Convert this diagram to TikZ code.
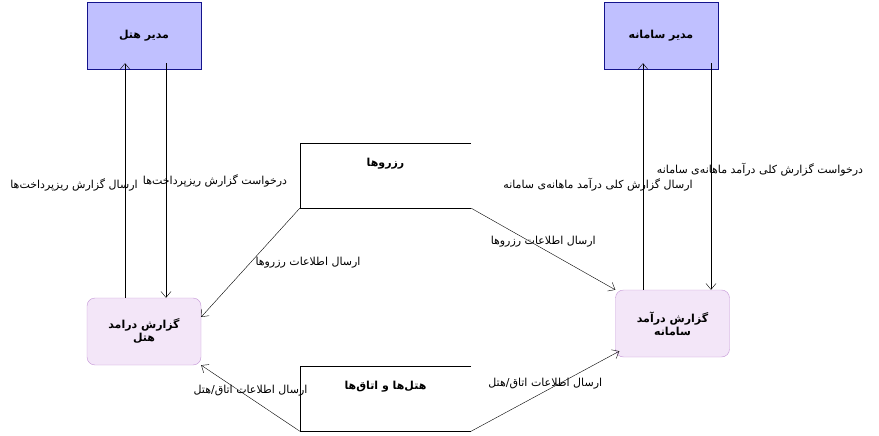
\documentclass[tikz,border=0pt]{standalone}
\usepackage{fontspec}
\setmainfont{DejaVu Sans}
\newfontfamily\arabicfont[Script=Arabic]{DejaVu Sans}
\TeXXeTstate=1
\usetikzlibrary{arrows.meta,calc}
\definecolor{akteur}{RGB}{192,192,255}
\definecolor{akteurrand}{RGB}{20,20,140}
\definecolor{prozess}{RGB}{243,230,248}
\definecolor{prozessrand}{RGB}{196,150,214}

\begin{document}
\begin{tikzpicture}[x=1pt, y=-1pt,
    akteurbox/.style={draw=akteurrand, fill=akteur, minimum width=114pt, minimum height=67pt, inner sep=2pt, font=\arabicfont\bfseries\fontsize{11}{13}\selectfont},
    prozessbox/.style={draw=prozessrand, fill=prozess, rounded corners=8pt, minimum width=114pt, minimum height=67pt, inner sep=2pt, align=center, font=\arabicfont\bfseries\fontsize{11}{13}\selectfont},
    speicher/.style={minimum width=171pt, minimum height=65pt, inner sep=0pt},
    speichertext/.style={anchor=center, yshift=-21pt, font=\arabicfont\bfseries\fontsize{11}{13}\selectfont},
    fluss/.style={-{Straight Barb[length=6pt,width=10pt]}, black},
    beschr/.style={font=\arabicfont\fontsize{11}{13}\selectfont, inner sep=1pt}]

    \useasboundingbox (0,0) rectangle (879,436);

    % externe Akteure
    \node[akteurbox] (hm) at (144,35.5) {\beginR مدیر هتل\endR};
    \node[akteurbox] (sm) at (661,35.5) {\beginR مدیر سامانه\endR};

    % Prozesse
    \node[prozessbox] (hr) at (144,331.5) {\beginR گزارش درامد\endR\\\beginR هتل\endR};
    \node[prozessbox] (sr) at (672.5,323.5) {\beginR گزارش درآمد\endR\\\beginR سامانه\endR};

    % Datenspeicher
    \node[speicher, label={[speichertext]north:\beginR رزروها\endR}] (rs) at (385.5,175.5) {};
    \draw (rs.north east) -- (rs.north west) -- (rs.south west) -- (rs.south east);
    \node[speicher, label={[speichertext]north:\beginR هتل‌ها و اتاق‌ها\endR}] (hs) at (385.5,398.5) {};
    \draw (hs.north east) -- (hs.north west) -- (hs.south west) -- (hs.south east);

    % Datenfluesse Hotel
    \draw[fluss] ([xshift=22pt,yshift=6pt]hm.south) -- node[beschr, xshift=49pt]{\beginR درخواست گزارش ریزپرداخت‌ها\endR} ([xshift=22pt]hr.north);
    \draw[fluss] ([xshift=-19pt]hr.north) -- node[beschr, xshift=-51pt, yshift=-4.5pt]{\beginR ارسال گزارش ریزپرداخت‌ها\endR} ([xshift=-19pt,yshift=6pt]hm.south);
    \draw[fluss] (rs.south west) -- node[beschr, xshift=57.5pt]{\beginR ارسال اطلاعات رزروها\endR} ([yshift=14.5pt]hr.east);
    \draw[fluss] (hs.south west) -- node[beschr, yshift=7.5pt]{\beginR ارسال اطلاعات اتاق/هتل\endR} (hr.south east);

    % Datenfluesse Samane
    \draw[fluss] (rs.south east) -- node[beschr, yshift=7pt]{\beginR ارسال اطلاعات رزروها\endR} (sr.north west);
    \draw[fluss] (hs.south east) -- node[beschr, yshift=8pt]{\beginR ارسال اطلاعات اتاق/هتل\endR} ([xshift=4pt,yshift=6pt]sr.south west);
    \coordinate (s1) at ([xshift=-18pt,yshift=6pt]sm.south);
    \coordinate (s2) at ([xshift=50pt,yshift=6pt]sm.south);
    \draw[fluss] (sr.north -| s1) -- node[beschr, xshift=-45pt, yshift=-8pt]{\beginR ارسال گزارش کلی درآمد ماهانه‌ی سامانه\endR} (s1);
    \draw[fluss] (s2) -- node[beschr, xshift=49pt, yshift=7pt]{\beginR درخواست گزارش کلی درآمد ماهانه‌ی سامانه\endR} (sr.north -| s2);

\end{tikzpicture}
\end{document}
